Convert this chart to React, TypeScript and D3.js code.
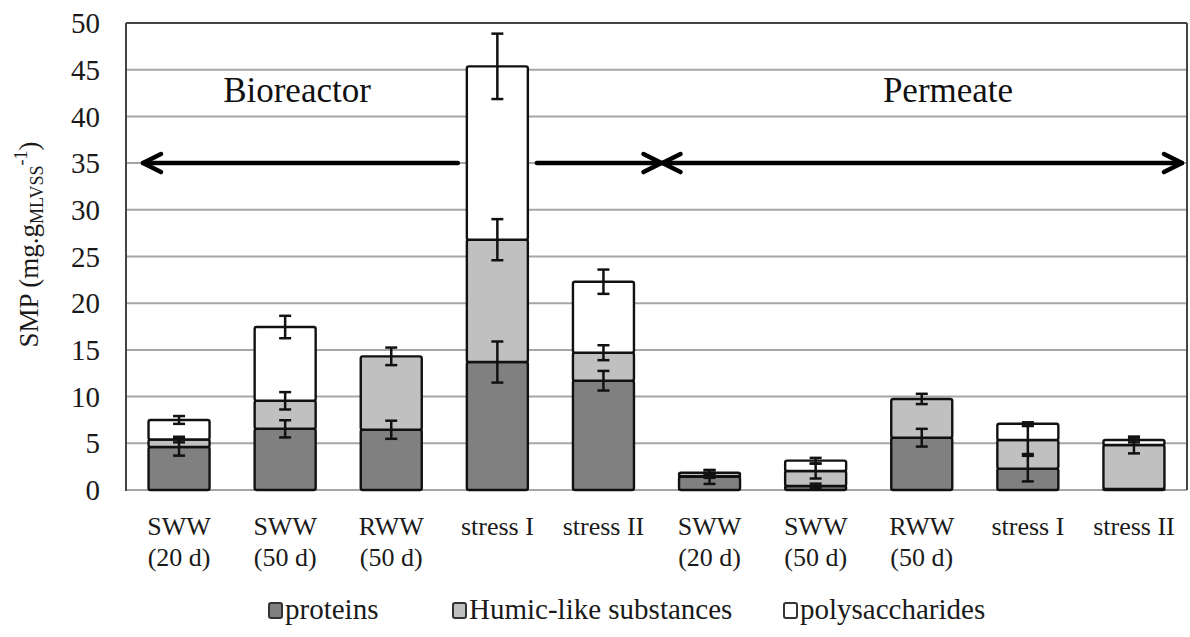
import React from 'react';
import * as d3 from 'd3';

const width = 1190;
const height = 637;
const margin = { top: 23, right: 3, bottom: 147, left: 126 };
const serif = "'Liberation Serif', 'Times New Roman', serif";

// categories (two lines of text under each bar)
const catTop = ['SWW', 'SWW', 'RWW', 'stress I', 'stress II', 'SWW', 'SWW', 'RWW', 'stress I', 'stress II'];
const catBottom = ['(20 d)', '(50 d)', '(50 d)', '', '', '(20 d)', '(50 d)', '(50 d)', '', ''];

// SMP fractions, mg/gMLVSS
const proteins = [4.6, 6.55, 6.45, 13.7, 11.7, 1.4, 0.43, 5.6, 2.29, 0.1];
const humic = [0.8, 3.0, 7.86, 13.1, 3.0, 0.1, 1.6, 4.15, 3.06, 4.72];
const polysaccharides = [2.1, 7.9, 0, 18.56, 7.6, 0.35, 1.11, 0, 1.75, 0.53];

const proteinsErr = [0.92, 0.92, 0.97, 2.2, 1.05, 0.75, 0.25, 0.95, 1.37, 0];
const humicErr = [0.3, 0.93, 0.94, 2.2, 0.8, 0.2, 0.8, 0.55, 1.5, 0.9];
const polysaccharidesErr = [0.42, 1.2, 0, 3.5, 1.3, 0.25, 0.3, 0, 0.15, 0.25];

const keys = ['proteins', 'humic', 'polysaccharides'];
const seriesNames = ['proteins', 'Humic-like substances', 'polysaccharides'];
const fills = ['#808080', '#c0c0c0', '#ffffff'];
const errors = [proteinsErr, humicErr, polysaccharidesErr];

const yTicks = [0, 5, 10, 15, 20, 25, 30, 35, 40, 45, 50];
const groupLabels = ['Bioreactor', 'Permeate'];
const groupLabelX = [297, 948];
const legendX = [269, 453, 784];

export default function App() {
  const x0 = margin.left;
  const x1 = width - margin.right;
  const y0 = height - margin.bottom;
  const y1 = margin.top;

  const x = d3
    .scaleBand<number>()
    .domain(d3.range(catTop.length))
    .range([x0, x1])
    .paddingInner(0.425)
    .paddingOuter(0.2125);

  const y = d3.scaleLinear().domain([0, 50]).range([y0, y1]);

  const rows = catTop.map((_, i) => ({
    i,
    proteins: proteins[i],
    humic: humic[i],
    polysaccharides: polysaccharides[i],
  }));
  const stacked = d3.stack<any>().keys(keys)(rows);
  const bw = x.bandwidth();

  // arrows at the 35 level, broken around the tall stress I bar
  const ay = y(35);
  const split = x0 + x.step() * 5 + 5;
  const gapL = (x(3) as number) - 9;
  const gapR = (x(3) as number) + bw + 9;
  const head = (tx: number, dir: number) =>
    `M${tx + dir * 18},${ay - 9} L${tx},${ay} L${tx + dir * 18},${ay + 9}`;

  return (
    <svg
      width={width}
      height={height}
      style={{ position: 'absolute', left: 0, top: 0, background: '#fff' }}
      fontFamily={serif}
    >
      {/* gridlines */}
      {yTicks.map((t) => (
        <line key={t} x1={x0} x2={x1} y1={y(t)} y2={y(t)} stroke="#a6a6a6" strokeWidth={2} />
      ))}
      {/* plot frame */}
      <line x1={x0} x2={x1} y1={y1} y2={y1} stroke="#444" strokeWidth={2} />
      <line x1={x1} x2={x1} y1={y1} y2={y0} stroke="#444" strokeWidth={2} />
      <line x1={x0} x2={x0} y1={y1} y2={y0 + 1} stroke="#444" strokeWidth={2} />

      {/* y tick labels */}
      {yTicks.map((t) => (
        <text key={t} x={100} y={y(t)} dy="0.35em" textAnchor="end" fontSize={29} fill="#1a1a1a">
          {t}
        </text>
      ))}

      {/* y axis title */}
      <text
        transform={`translate(38,${(y0 + y1) / 2 - 12}) rotate(-90)`}
        textAnchor="middle"
        fontSize={27}
        fill="#1a1a1a"
      >
        SMP (mg.g<tspan fontSize={18} dy={5}>MLVSS</tspan>
        <tspan fontSize={18} dy={-16}>-1</tspan>
        <tspan dy={11}>)</tspan>
      </text>

      {/* annotations */}
      <g stroke="#000" strokeWidth={4.5} strokeLinecap="round" strokeLinejoin="round" fill="none">
        <line x1={x0 + 17} x2={gapL} y1={ay} y2={ay} />
        <line x1={gapR} x2={split} y1={ay} y2={ay} />
        <path d={head(x0 + 17, 1)} />
        <path d={head(split, -1)} />
        <line x1={split + 1} x2={x1 - 5} y1={ay} y2={ay} />
        <path d={head(split + 1, 1)} />
        <path d={head(x1 - 5, -1)} />
      </g>
      {groupLabels.map((g, i) => (
        <text key={g} x={groupLabelX[i]} y={102} textAnchor="middle" fontSize={35} fill="#111">
          {g}
        </text>
      ))}

      {/* bars */}
      {stacked.map((s, si) => (
        <g key={s.key}>
          {s.map((d, i) =>
            d[1] - d[0] > 0 ? (
              <rect
                key={i}
                x={x(i)}
                y={y(d[1])}
                width={bw}
                height={y(d[0]) - y(d[1])}
                fill={fills[si]}
                stroke="#111"
                strokeWidth={2.4}
                rx={2}
              />
            ) : null
          )}
        </g>
      ))}

      {/* error bars */}
      {stacked.map((s, si) => (
        <g key={'e' + s.key} stroke="#111" strokeWidth={2.5}>
          {s.map((d, i) => {
            const e = errors[si][i];
            if (!(d[1] - d[0] > 0) || !e) return null;
            const cx = (x(i) as number) + bw / 2;
            const top = y(d[1] + e);
            const bot = y(d[1] - e);
            return (
              <g key={i}>
                <line x1={cx} x2={cx} y1={top} y2={bot} />
                <line x1={cx - 6} x2={cx + 6} y1={top} y2={top} />
                <line x1={cx - 6} x2={cx + 6} y1={bot} y2={bot} />
              </g>
            );
          })}
        </g>
      ))}

      {/* category labels */}
      {catTop.map((c, i) => {
        const cx = (x(i) as number) + bw / 2;
        return (
          <g key={i} fontSize={26} fill="#1a1a1a" textAnchor="middle">
            <text x={cx} y={535}>{c}</text>
            <text x={cx} y={566}>{catBottom[i]}</text>
          </g>
        );
      })}

      {/* legend */}
      {seriesNames.map((n, i) => (
        <g key={n}>
          <rect x={legendX[i]} y={603} width={13} height={15} rx={2} fill={fills[i]} stroke="#333" strokeWidth={2} />
          <text x={legendX[i] + 16} y={619} fontSize={29} fill="#1a1a1a">
            {n}
          </text>
        </g>
      ))}
    </svg>
  );
}
